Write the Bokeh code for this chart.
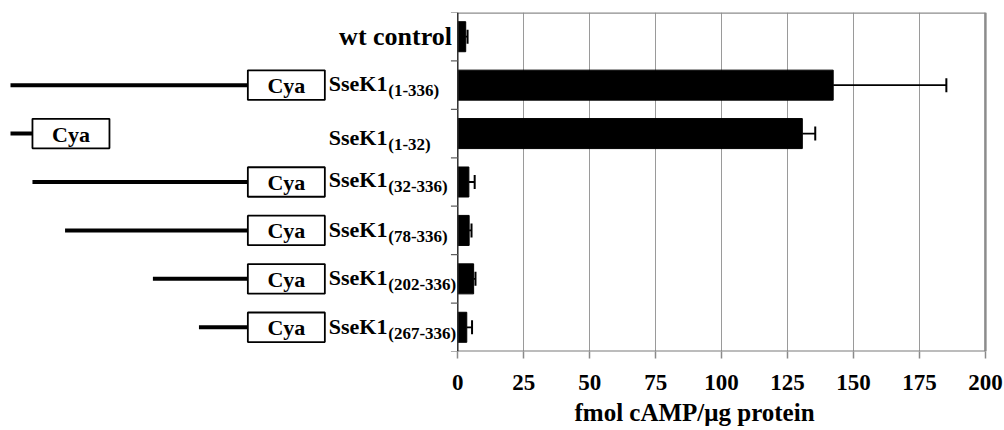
from bokeh.plotting import figure
from bokeh.models import Range1d, FixedTicker, ColumnDataSource, Whisker, TeeHead, Title
from bokeh.core.properties import value
from bokeh.embed import file_html
from bokeh.resources import INLINE

# ---------------- data ----------------
constructs = ["wt control", "SseK1", "SseK1", "SseK1", "SseK1", "SseK1", "SseK1"]
subscripts = ["", "(1-336)", "(1-32)", "(32-336)", "(78-336)", "(202-336)", "(267-336)"]
camp = [3.0, 142.3, 130.6, 4.2, 4.3, 6.0, 3.4]          # fmol cAMP / ug protein
camp_err = [0.7, 42.9, 4.9, 2.2, 0.9, 0.7, 2.0]
frag_start = [1, 1, 32, 78, 202, 267]                     # residues of fused SseK1 fragment
frag_end = [336, 32, 336, 336, 336, 336]
fusion_tag = "Cya"
x_ticks = [0, 25, 50, 75, 100, 125, 150, 175, 200]
x_title = "fmol cAMP/\u03bcg protein"

# ---------------- styling / layout constants ----------------
FONT = value("Liberation Serif")
RES_X0 = -169.56     # x (data units) of residue 1 in the schematic
RES_W = 0.26857      # data units per residue
BOX_W = 29.19        # width of the Cya box (data units)
BOX_H = 0.61
BAR_H = 0.62
LABEL_X = -48.9
label_dy = [0, -2, 4, -2.5, -0.5, -1, -0.6]   # baseline offsets (px) of the row labels

n = len(constructs)
row_center = [i + 0.5 for i in range(n)]

p = figure(width=1004, height=430,
           x_range=Range1d(-173.35, 207.24), y_range=Range1d(n, 0),
           toolbar_location=None, output_backend="svg",
           y_axis_location=None,
           min_border_left=0, min_border_right=0, min_border_top=12, min_border_bottom=0)
p.outline_line_color = None
p.background_fill_color = "white"
p.border_fill_color = "white"

# grid
p.ygrid.visible = False
p.xgrid.ticker = FixedTicker(ticks=x_ticks)
p.xgrid.grid_line_color = "#9a9a9a"
p.xgrid.grid_line_width = 1

# x axis (ticks + labels only; line drawn over the data region)
ax = p.xaxis[0]
ax.ticker = FixedTicker(ticks=x_ticks)
ax.axis_line_color = None
ax.major_tick_line_color = "#8a8a8a"
ax.major_tick_line_width = 1.5
ax.major_tick_out = 7
ax.major_tick_in = 0
ax.minor_tick_line_color = None
ax.major_label_text_font = "Liberation Serif"
ax.major_label_text_font_style = "bold"
ax.major_label_text_font_size = "23px"
ax.major_label_text_color = "black"
ax.major_label_standoff = 16

# bars
p.hbar(y=row_center, left=0, right=camp, height=BAR_H, color="black")

# error bars
upper = [v + e for v, e in zip(camp, camp_err)]
err_src = ColumnDataSource(dict(base=row_center, lower=camp, upper=upper))
p.add_layout(Whisker(base="base", lower="lower", upper="upper", dimension="width",
                     source=err_src, line_color="black", line_width=1.8,
                     lower_head=None,
                     upper_head=TeeHead(size=14, line_color="black", line_width=2)))

# frame: top / right border, bottom axis line, left axis line and its ticks
top, bottom = 0, n
p.segment(x0=[x_ticks[0], x_ticks[-1]], y0=[top, top], x1=[x_ticks[-1], x_ticks[-1]], y1=[top, bottom],
          line_color="#8c8c8c", line_width=2.5)
p.segment(x0=[x_ticks[0]], y0=[bottom], x1=[x_ticks[-1]], y1=[bottom], line_color="#7a7a7a", line_width=2)
p.segment(x0=[0], y0=[top], x1=[0], y1=[bottom], line_color="#303030", line_width=1.5)
bounds = list(range(n + 1))
p.segment(x0=[-2.6] * len(bounds), y0=bounds, x1=[0] * len(bounds), y1=bounds,
          line_color="#606060", line_width=1.2)

# schematic of fusion constructs (rows 1..6)
rows = row_center[1:]
line_x0 = [RES_X0 + (s - 1) * RES_W for s in frag_start]
line_x1 = [RES_X0 + (e - 1) * RES_W for e in frag_end]
p.segment(x0=line_x0, y0=rows, x1=line_x1, y1=rows, line_color="black", line_width=4)
p.quad(left=line_x1, right=[x + BOX_W for x in line_x1],
       top=[r - BOX_H / 2 for r in rows], bottom=[r + BOX_H / 2 for r in rows],
       fill_color="white", line_color="black", line_width=1.8)
p.text(x=[x + BOX_W / 2 for x in line_x1], y=rows, text=[fusion_tag] * len(rows),
       text_font=FONT, text_font_style="bold", text_font_size="22px",
       text_align="center", text_baseline="alphabetic", y_offset=0.5, text_color="black")

# row labels
lab_src = ColumnDataSource(dict(x=[LABEL_X] * (n - 1), y=rows, t=constructs[1:],
                                sub=subscripts[1:], dy=label_dy[1:],
                                dys=[d + 7 for d in label_dy[1:]]))
p.text(x="x", y="y", text="t", y_offset="dy", source=lab_src,
       text_font=FONT, text_font_style="bold", text_font_size="22px",
       text_baseline="alphabetic", text_color="black")
p.text(x="x", y="y", text="sub", y_offset="dys", x_offset=59.5, source=lab_src,
       text_font=FONT, text_font_style="bold", text_font_size="17px",
       text_baseline="alphabetic", text_color="black")
p.text(x=[-2.2], y=[row_center[0]], text=[constructs[0]], y_offset=label_dy[0],
       text_font=FONT, text_font_style="bold", text_font_size="26px",
       text_align="right", text_baseline="alphabetic", text_color="black")

# x axis title
p.add_layout(Title(text=x_title, align="left", offset=574, standoff=9,
                   text_font="Liberation Serif", text_font_style="bold",
                   text_font_size="25px", text_color="black"), "below")

open("out.html", "w").write(file_html(p, INLINE))
